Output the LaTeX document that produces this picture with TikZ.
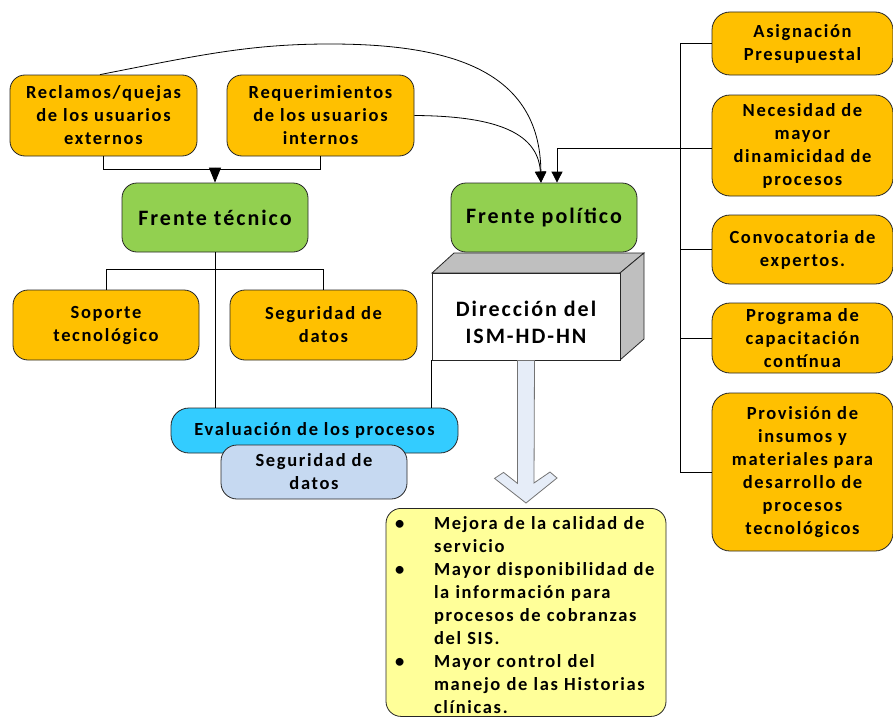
\documentclass[tikz,border=0pt]{standalone}
\usepackage{fontspec}
\setmainfont{Carlito}[LetterSpace=9]
\usetikzlibrary{arrows.meta}
\definecolor{orgC}{HTML}{FFC000}
\definecolor{grnC}{HTML}{92D050}
\definecolor{cyanC}{HTML}{33CCFF}
\definecolor{pblueC}{HTML}{C6D9F1}
\definecolor{yelC}{HTML}{FFFF99}
\definecolor{grayC}{HTML}{BFBFBF}
\definecolor{arrC}{HTML}{E6EDF8}
\tikzset{
  box/.style={draw=black!85, line width=0.8pt, rounded corners=15pt, align=center,
    inner sep=0pt, font=\bfseries\fontsize{18.5}{23}\selectfont},
  obox/.style={box, fill=orgC},
  rbox/.style={obox, rounded corners=18pt, minimum width=181pt},
  gbox/.style={box, fill=grnC, minimum width=186pt, minimum height=69pt,
    font=\bfseries\fontsize{22}{27}\selectfont},
  wire/.style={line width=0.8pt, black},
  arr/.style={wire, -{Triangle[width=11pt,length=11pt]}},
}
\begin{document}
\begin{tikzpicture}[x=1pt,y=-1pt]
\useasboundingbox (0,0) rectangle (893,717);

% top requirement boxes
\node[obox, minimum width=187pt, minimum height=81pt] (rec) at (103.5,115.5)
  {Reclamos/quejas\\de los usuarios\\externos};
\node[obox, minimum width=187pt, minimum height=81pt] (req) at (320.5,115.5)
  {Requerimientos\\de los usuarios\\internos};

% the two fronts
\node[gbox] (ftec) at (215,217.5) {Frente técnico};
\node[gbox] (fpol) at (544,217.5) {Frente político};

% technical branch
\node[obox, minimum width=186pt, minimum height=70pt] (sop) at (106,325)
  {Soporte\\tecnológico};
\node[obox, minimum width=187pt, minimum height=70pt] (seg1) at (323.5,325)
  {Seguridad de\\datos};

% evaluation boxes
\node[box, fill=cyanC, rounded corners=18pt, minimum width=287pt, minimum height=45pt]
  (eval) at (314.5,430.5) {Evaluación de los procesos};
\node[box, fill=pblueC, rounded corners=16pt, minimum width=186pt, minimum height=54pt]
  (seg2) at (314,472) {Seguridad de\\datos};

% right column
\node[rbox, minimum height=63pt]  (asig) at (802.5,43.5) {Asignación\\Presupuestal};
\node[rbox, minimum height=101pt] (nec)  at (802.5,145.5) {Necesidad de\\mayor\\dinamicidad de\\procesos};
\node[rbox, minimum height=69pt]  (conv) at (802.5,249.5) {Convocatoria de\\expertos.};
\node[rbox, minimum height=70pt]  (prog) at (802.5,338) {Programa de\\capacitación\\contínua};
\node[rbox, minimum height=158pt] (prov) at (802.5,472) {Provisión de\\insumos y\\materiales para\\desarrollo de\\procesos\\tecnológicos};

% 3D block for the management
\fill[grayC, draw=black!85, line width=0.8pt] (432,273) -- (454,253) -- (644,253) -- (620,273) -- cycle;
\fill[grayC, draw=black!85, line width=0.8pt] (620,273) -- (644,253) -- (644,339) -- (620,360) -- cycle;
\node[draw=black!85, line width=0.8pt, fill=white, minimum width=188pt, minimum height=87pt,
  inner sep=0pt, align=center, font=\bfseries\fontsize{22}{27}\selectfont]
  (dir) at (526,316.5)
  {\raisebox{-8pt}[\height][\depth]{\begin{tabular}{@{}c@{}}Dirección del\\ISM-HD-HN\end{tabular}}};

% outcomes
\node[box, fill=yelC, minimum width=280pt, minimum height=208pt, text width=280pt,
  align=left, anchor=north] (res) at (526,508)
  {\raisebox{-4pt}[\height][\depth]{\begin{tabular}{@{\hspace{9pt}}p{39pt}@{}l@{}}
   \textbullet & Mejora de la calidad de\\
               & servicio\\
   \textbullet & Mayor disponibilidad de\\
               & la información para\\
               & procesos de cobranzas\\
               & del SIS.\\
   \textbullet & Mayor control del\\
               & manejo de las Historias\\
               & clínicas.
   \end{tabular}}};

% hollow arrow from management to outcomes
\draw[fill=arrC, draw=black!55, line width=0.8pt, line join=miter]
  ([xshift=-8.5pt]dir.south) -- ++(0,123) -- ++(-14,-11) -- ++(-9,6)
  -- ([yshift=5pt]res.north) -- ++(31,-25) -- ++(-7,-6) -- ++(-16,11)
  -- ([xshift=8.5pt]dir.south) -- cycle;

% connectors into the technical front
\draw[wire] (rec.south) -- ++(0,13) -| (req.south);
\draw[wire, -{Triangle[width=12pt,length=15pt]}] ([yshift=15pt]ftec.north) -- (ftec.north);
\draw[wire] (ftec.south) -- (ftec.south |- eval.north);
\draw[wire] (sop.north) -- ++(0,-20) -| (seg1.north);
\draw[wire] (dir.south west) -- (dir.south west |- eval.north);

% connectors into the political front
\draw[arr] ([xshift=-3.5pt]rec.north) .. controls (200,55) and (250,44) .. (330,44)
  .. controls (450,44) and (540,70) .. ([xshift=-3pt]fpol.north);
\draw[arr] (req.east) .. controls (490,116) and (538,130) .. ([xshift=-3pt]fpol.north);
\draw[arr] ([yshift=-2.5pt]nec.west) -| ([xshift=13pt]fpol.north);

% right column trunk
\draw[wire] (asig.west) -- ++(-31,0) coordinate (trunk) -- (trunk |- prov.west) -- (prov.west);
\draw[wire] (conv.west) -- (trunk |- conv.west);
\draw[wire] (prog.west) -- (trunk |- prog.west);
\end{tikzpicture}
\end{document}
